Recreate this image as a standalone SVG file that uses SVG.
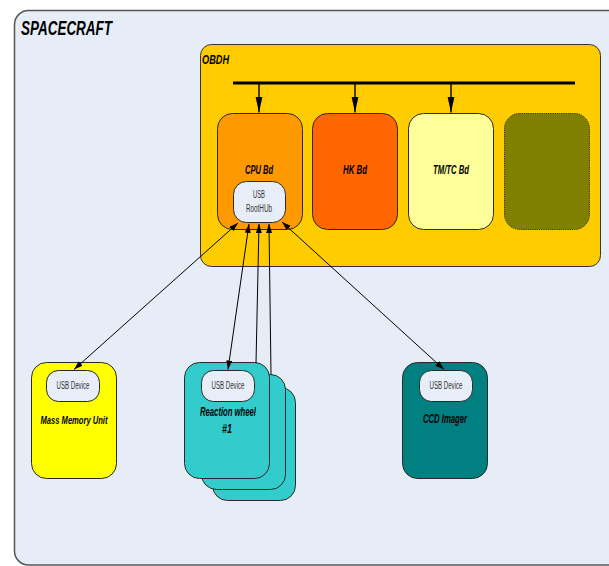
<svg xmlns="http://www.w3.org/2000/svg" width="609" height="566" viewBox="0 0 609 566">
  <defs>
    <marker id="busHead" markerUnits="userSpaceOnUse" markerWidth="18" markerHeight="8" refX="16" refY="3.5" orient="auto">
      <path d="M0,0 L16,3.5 L0,7 z" fill="#000"/>
    </marker>
    <marker id="usbHead" markerUnits="userSpaceOnUse" markerWidth="11" markerHeight="7" refX="9" refY="3" orient="auto-start-reverse">
      <path d="M0,0 L9,3 L0,6 z" fill="#000"/>
    </marker>
  </defs>
  <style>
    .box { stroke: #2a2a2a; stroke-width: 1; }
    .lbl { font-family: "Liberation Sans", Arial, sans-serif; font-style: italic; font-weight: bold; fill: #000; text-anchor: middle; }
    .usb { font-family: "Liberation Sans", Arial, sans-serif; font-size: 10px; fill: #333; text-anchor: middle; }
    .usbbox { fill: #E8EEF7; stroke: #2a2a2a; stroke-width: 1; }
    .bus { stroke: #000; stroke-width: 1.4; fill: none; }
    .link { stroke: #000; stroke-width: 1; fill: none; }
  </style>

  <!-- spacecraft frame -->
  <g id="spacecraft">
    <rect x="14.5" y="10.5" width="620" height="554.5" rx="14" fill="#E6EDF7" stroke="#555" stroke-width="1.5"/>
    <text class="lbl" x="21" y="35" font-size="20" textLength="91" lengthAdjust="spacingAndGlyphs" style="text-anchor:start">SPACECRAFT</text>
  </g>

  <!-- on-board data handling -->
  <g id="obdh">
    <rect x="200.5" y="44.5" width="400" height="222" rx="11" fill="#FFCC00" stroke="#333" stroke-width="1"/>
    <text class="lbl" x="202" y="64" font-size="13.5" textLength="27" lengthAdjust="spacingAndGlyphs" style="text-anchor:start">OBDH</text>
    <line x1="233" y1="83" x2="575" y2="83" stroke="#000" stroke-width="3"/>
  </g>

  <g id="cpu-bd">
    <rect class="box" x="217.5" y="113.5" width="85" height="116" rx="15" fill="#FF9900"/>
    <text class="lbl" x="259" y="174" font-size="12.5" textLength="28" lengthAdjust="spacingAndGlyphs">CPU Bd</text>
  </g>

  <g id="usb-roothub">
    <rect class="usbbox" x="233.5" y="181.5" width="52" height="41" rx="13"/>
    <text class="usb" x="259" y="198" textLength="12" lengthAdjust="spacingAndGlyphs">USB</text>
    <text class="usb" x="259" y="212" textLength="26" lengthAdjust="spacingAndGlyphs">RootHUb</text>
  </g>

  <g id="hk-bd">
    <rect class="box" x="312.5" y="113.5" width="85" height="116" rx="15" fill="#FF6600"/>
    <text class="lbl" x="355" y="174" font-size="12.5" textLength="24" lengthAdjust="spacingAndGlyphs">HK Bd</text>
  </g>

  <g id="tmtc-bd">
    <rect class="box" x="408.5" y="113.5" width="85" height="116" rx="15" fill="#FFFF99"/>
    <text class="lbl" x="451" y="174" font-size="12.5" textLength="36" lengthAdjust="spacingAndGlyphs">TM/TC Bd</text>
  </g>

  <g id="spare-bd">
    <rect class="box" x="504.5" y="113.5" width="85" height="116" rx="15" fill="#808000" stroke-dasharray="1.2 1"/>
  </g>

  <!-- USB devices -->
  <g id="mass-memory-unit">
    <rect class="box" x="31.5" y="362.5" width="85" height="116" rx="15" fill="#FFFF00"/>
    <rect class="usbbox" x="46.5" y="370.5" width="53" height="31" rx="12"/>
    <text class="usb" x="73" y="389" textLength="33" lengthAdjust="spacingAndGlyphs">USB Device</text>
    <text class="lbl" x="74" y="424" font-size="11.5" textLength="67" lengthAdjust="spacingAndGlyphs">Mass Memory Unit</text>
  </g>

  <g id="reaction-wheel">
    <rect class="box" x="212.5" y="387.5" width="83" height="113" rx="15" fill="#33CCCC"/>
    <rect class="box" x="201.5" y="374.5" width="84" height="115" rx="15" fill="#33CCCC"/>
    <rect class="box" x="184.5" y="362.5" width="85" height="116" rx="15" fill="#33CCCC"/>
    <rect class="usbbox" x="201.5" y="370.5" width="53" height="31" rx="12"/>
    <text class="usb" x="228" y="389" textLength="33" lengthAdjust="spacingAndGlyphs">USB Device</text>
    <text class="lbl" x="228" y="416" font-size="12" textLength="56" lengthAdjust="spacingAndGlyphs">Reaction wheel</text>
    <text class="lbl" x="227" y="433" font-size="12" textLength="10" lengthAdjust="spacingAndGlyphs">#1</text>
  </g>

  <g id="ccd-imager">
    <rect class="box" x="402.5" y="362.5" width="85" height="116" rx="15" fill="#008080"/>
    <rect class="usbbox" x="419.5" y="370.5" width="53" height="31" rx="12"/>
    <text class="usb" x="446" y="389" textLength="33" lengthAdjust="spacingAndGlyphs">USB Device</text>
    <text class="lbl" x="445" y="423" font-size="12" textLength="44" lengthAdjust="spacingAndGlyphs">CCD Imager</text>
  </g>

  <!-- connectors -->
  <g id="connectors">
    <line class="bus" x1="259" y1="83" x2="259" y2="112.5" marker-end="url(#busHead)"/>
    <line class="bus" x1="355" y1="83" x2="355" y2="112.5" marker-end="url(#busHead)"/>
    <line class="bus" x1="451" y1="83" x2="451" y2="112.5" marker-end="url(#busHead)"/>

    <line class="link" x1="238" y1="223" x2="74" y2="369.5" marker-start="url(#usbHead)" marker-end="url(#usbHead)"/>
    <line class="link" x1="249" y1="224" x2="228" y2="369.5" marker-start="url(#usbHead)" marker-end="url(#usbHead)"/>
    <line class="link" x1="259" y1="224" x2="256" y2="363" marker-start="url(#usbHead)"/>
    <line class="link" x1="269" y1="224" x2="271" y2="374.5" marker-start="url(#usbHead)"/>
    <line class="link" x1="282" y1="222" x2="444" y2="369.5" marker-start="url(#usbHead)" marker-end="url(#usbHead)"/>
  </g>
</svg>
